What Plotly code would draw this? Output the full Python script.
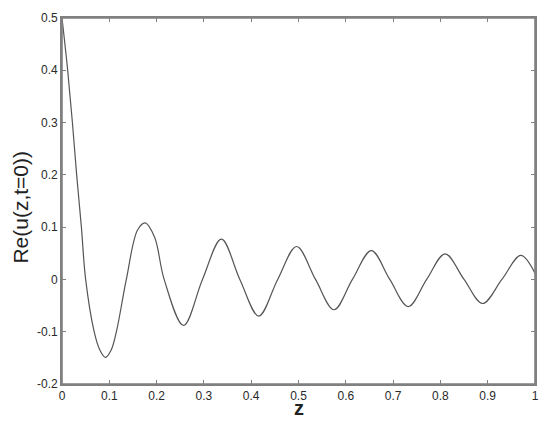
import plotly.graph_objects as go

# values
z = [0.0, 0.012, 0.022, 0.031, 0.041, 0.050, 0.068, 0.080, 0.092, 0.104, 0.115,
     0.136, 0.160, 0.176, 0.196, 0.216, 0.257, 0.297, 0.337, 0.376, 0.416,
     0.456, 0.496, 0.536, 0.575, 0.614, 0.654, 0.693, 0.732, 0.771, 0.810,
     0.850, 0.889, 0.930, 0.970, 1.0]
re_u = [0.5, 0.4, 0.3, 0.2, 0.1, 0.0, -0.1, -0.135, -0.149, -0.135, -0.1,
        0.0, 0.095, 0.108, 0.08, 0.0, -0.088, 0.0, 0.077, 0.0, -0.070,
        0.0, 0.063, 0.0, -0.058, 0.0, 0.055, 0.0, -0.052, 0.0, 0.049,
        0.0, -0.046, 0.0, 0.046, 0.012]

x_ticks = [0, 0.1, 0.2, 0.3, 0.4, 0.5, 0.6, 0.7, 0.8, 0.9, 1]
x_labels = ["0", "0.1", "0.2", "0.3", "0.4", "0.5", "0.6", "0.7", "0.8", "0.9", "1"]
y_ticks = [-0.2, -0.1, 0, 0.1, 0.2, 0.3, 0.4, 0.5]
y_labels = ["-0.2", "-0.1", "0", "0.1", "0.2", "0.3", "0.4", "0.5"]

axis_color = "#808080"
font = "Liberation Sans, Arial"

fig = go.Figure()
fig.add_trace(go.Scatter(
    x=z, y=re_u, mode="lines",
    line=dict(color="#555555", width=1.2, shape="spline", smoothing=1.0),
    showlegend=False,
))

axis_style = dict(
    showline=True, linecolor=axis_color, linewidth=1.6, mirror="allticks",
    ticks="inside", ticklen=4, tickcolor=axis_color,
    showgrid=False, zeroline=False, ticklabeloverflow="allow",
    tickfont=dict(family=font, size=12, color="#2a2a2a"),
)

# page body has an 8px margin on every side, so keep the figure inside 534x409
fig.update_layout(
    width=534, height=409,
    margin=dict(l=54, r=3, t=5, b=33),
    paper_bgcolor="white", plot_bgcolor="white",
    xaxis=dict(range=[0, 1], tickvals=x_ticks, ticktext=x_labels, **axis_style),
    yaxis=dict(range=[-0.2, 0.5], tickvals=y_ticks, ticktext=y_labels, **axis_style),
)

# box around the plot area, like the MATLAB axes
fig.add_shape(type="rect", xref="paper", yref="paper", x0=0, y0=0, x1=1, y1=1,
              line=dict(color=axis_color, width=1.6), layer="above")

fig.add_annotation(
    text="<b>z</b>", showarrow=False,
    xref="paper", yref="paper", x=0.5, y=0, xanchor="center", yanchor="middle",
    yshift=-24,
    font=dict(family=font, size=20, color="#222222"),
)
fig.add_annotation(
    text="Re(u(z,t=0))", textangle=-90, showarrow=False,
    xref="paper", yref="paper", x=0, y=0.482, xanchor="center", yanchor="middle",
    xshift=-41,
    font=dict(family=font, size=21, color="#222222"),
)

fig.write_html("out.html")
